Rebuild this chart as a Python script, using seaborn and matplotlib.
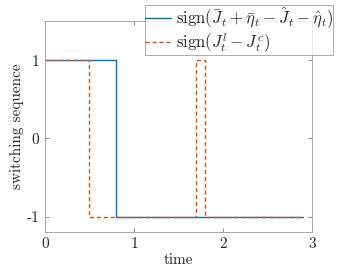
import numpy as np
import pandas as pd
import seaborn as sns
import matplotlib.pyplot as plt

# switching instants and signal levels (held until next instant)
t_est = [0.0, 0.8, 2.9]
s_est = [1, -1, -1]
t_cost = [0.0, 0.5, 1.7, 1.8, 2.9]
s_cost = [1, -1, 1, -1, -1]

label_est = r'sign$(\bar{J}_t+\bar{\eta}_t-\hat{J}_t-\hat{\eta}_t)$'
label_cost = r'sign$(J_t^l-J_t^c)$'

sns.set_style("white")
plt.rcParams['font.family'] = ['cmr10']
plt.rcParams['mathtext.fontset'] = 'cm'
plt.rcParams['axes.unicode_minus'] = False
plt.rcParams['axes.formatter.use_mathtext'] = True
plt.rcParams['font.size'] = 11

df_est = pd.DataFrame({"time": t_est, "s": s_est})
df_cost = pd.DataFrame({"time": t_cost, "s": s_cost})

fig = plt.figure(figsize=(3.46, 2.78), dpi=100)
ax = fig.add_axes([0.130, 0.165, 0.772, 0.759])

sns.lineplot(data=df_est, x="time", y="s", ax=ax, color="#0072BD", lw=1.0,
             drawstyle="steps-post", estimator=None, label=label_est, legend=False)
sns.lineplot(data=df_cost, x="time", y="s", ax=ax, color="#D95319", lw=1.0,
             linestyle=(0, (3, 2)), drawstyle="steps-post", estimator=None,
             label=label_cost, legend=False)

ax.set_xlim(0, 3)
ax.set_ylim(-1.2, 1.5)
ax.set_xticks([0, 1, 2, 3])
ax.set_yticks([-1, 0, 1])
ax.set_yticklabels(["-1", "0", "1"])
ax.set_xticklabels(["0", "1", "2", "3"])
ax.set_xlabel("time", labelpad=1)
ax.set_ylabel("switching sequence", labelpad=2)

for sp in ax.spines.values():
    sp.set_visible(True)
    sp.set_color("#a8a8a8")
    sp.set_linewidth(0.7)
ax.tick_params(direction="in", length=3, width=0.6, color="#777777",
               top=True, right=True, bottom=True, left=True, labelsize=11,
               pad=4)

handles, labels = ax.get_legend_handles_labels()
leg = fig.legend(handles, labels, loc="upper right", bbox_to_anchor=(0.963, 0.982),
                 fontsize=12, frameon=True, fancybox=False, borderpad=0.0,
                 handlelength=1.6, handletextpad=0.25, labelspacing=0.0,
                 borderaxespad=0)
leg.get_frame().set_edgecolor("#888888")
leg.get_frame().set_linewidth(0.6)

fig.savefig("out.png", dpi=100)
